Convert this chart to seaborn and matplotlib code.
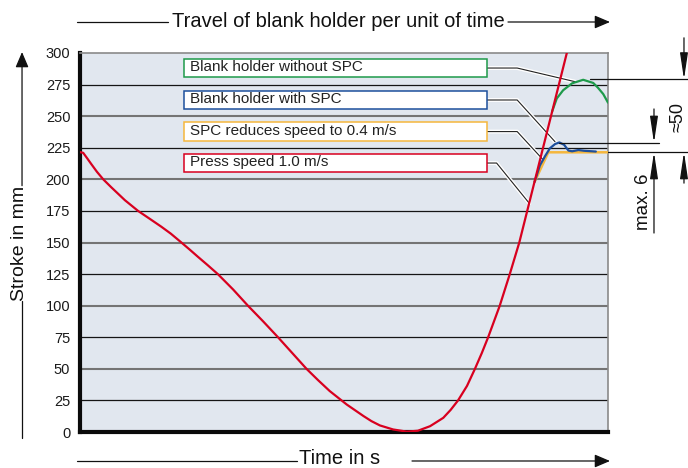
import matplotlib
matplotlib.use("Agg")
import matplotlib.pyplot as plt
import matplotlib.patheffects as pe
from matplotlib.patches import Rectangle
import seaborn as sns

sns.set_theme(style="white")
plt.rcParams['font.family'] = ['Liberation Sans', 'DejaVu Sans']

# --- Data (time normalised 0..1, stroke in mm) ---
time_press = [0.000, 0.006, 0.013, 0.021, 0.032, 0.044, 0.059, 0.085, 0.110, 0.133,
              0.154, 0.172, 0.192, 0.208, 0.223, 0.242, 0.261, 0.290, 0.318, 0.347,
              0.375, 0.402, 0.429, 0.451, 0.473, 0.505, 0.537, 0.552, 0.568, 0.593,
              0.619, 0.640, 0.663, 0.688, 0.702, 0.716, 0.733, 0.748, 0.761, 0.773,
              0.784, 0.795, 0.814, 0.832, 0.847, 0.862, 0.877, 0.892, 0.907, 0.922,
              0.926]
stroke_press = [221.5, 221.0, 217.0, 212.3, 206.0, 200.0, 193.8, 183.5, 175.0, 168.5,
                162.5, 157.0, 150.0, 144.3, 138.8, 132.0, 125.0, 112.8, 100.0, 87.5,
                75.0, 62.5, 50.0, 41.0, 32.4, 21.8, 12.6, 8.6, 5.2, 2.0,
                0.3, 1.0, 4.6, 11.2, 17.5, 25.0, 36.5, 50.0, 62.5, 75.0,
                87.5, 100.0, 125.0, 150.0, 175.0, 200.0, 225.0, 250.0, 275.0, 300.0,
                306.0]

time_no_spc = [0.894, 0.903, 0.915, 0.932, 0.953, 0.972, 0.981, 0.991, 1.000]
stroke_no_spc = [253.5, 264.0, 270.5, 276.0, 278.8, 276.3, 272.5, 267.5, 260.7]

time_with_spc = [0.861, 0.871, 0.881, 0.890, 0.900, 0.908, 0.917, 0.925, 0.932, 0.944, 0.955, 0.977]
stroke_with_spc = [198.0, 211.0, 218.5, 224.6, 228.0, 229.2, 227.3, 222.8, 222.2, 223.2, 222.6, 222.0]

time_reduced = [0.861, 0.887, 1.000]
stroke_reduced = [198.0, 221.4, 221.4]

y_ticks = [0, 25, 50, 75, 100, 125, 150, 175, 200, 225, 250, 275, 300]

labels = ["Blank holder without SPC", "Blank holder with SPC",
          "SPC reduces speed to 0.4 m/s", "Press speed 1.0 m/s"]
colors = ["#1e9a4a", "#1d4f9c", "#f5b73d", "#d8001f"]

peak_no_spc = 279.2
peak_with_spc = 229.0
final_level = 221.4

# --- Figure ---
fig = plt.figure(figsize=(6.88, 4.68), dpi=100)
ax = fig.add_axes([80 / 688, 36 / 468, 528 / 688, 379 / 468])
ax.set_facecolor('#e1e7ef')

# alternating dark / grey grid lines
for i, v in enumerate(y_ticks[1:-1]):
    if i % 2 == 0:
        ax.axhline(v, color='#151515', lw=0.9, zorder=1)
    else:
        ax.axhline(v, color='#747474', lw=1.5, zorder=1)

sns.lineplot(x=time_no_spc, y=stroke_no_spc, color=colors[0], lw=1.6, ax=ax, zorder=6)
sns.lineplot(x=time_reduced, y=stroke_reduced, color=colors[2], lw=1.8, ax=ax, zorder=6)
sns.lineplot(x=time_with_spc, y=stroke_with_spc, color=colors[1], lw=1.6, ax=ax, zorder=6)
sns.lineplot(x=time_press, y=stroke_press, color=colors[3], lw=1.6, ax=ax, zorder=7)

ax.set_xlim(0, 1)
ax.set_ylim(0, 300)
ax.set_xticks([])
ax.set_yticks(y_ticks)
ax.tick_params(axis='y', length=0, pad=7, labelsize=10.5, labelcolor='#1a1a1a')
ax.set_xlabel('')
ax.set_ylabel('')

for side in ['left', 'bottom']:
    ax.spines[side].set_color('#0a0a0a')
    ax.spines[side].set_linewidth(3)
for side in ['top', 'right']:
    ax.spines[side].set_color('#8a8a8a')
    ax.spines[side].set_linewidth(1.2)

# --- Label boxes with leader lines ---
box_centers = [288.1, 262.8, 237.8, 212.9]
leaders = [
    ([0.771, 0.828, 0.9375], [288.1, 288.1, 277.3]),
    ([0.771, 0.828, 0.8996], [262.8, 262.8, 229.8]),
    ([0.771, 0.828, 0.8775], [237.8, 237.8, 215.3]),
    ([0.771, 0.789, 0.851], [212.9, 212.9, 181.0]),
]
halo = [pe.withStroke(linewidth=2.8, foreground='white')]
for lab, col, yc, (lx, ly) in zip(labels, colors, box_centers, leaders):
    ax.plot(lx, ly, color='#222222', lw=0.8, path_effects=halo, zorder=4)
    ax.add_patch(Rectangle((0.197, yc - 7.2), 0.574, 14.4, facecolor='white',
                           edgecolor=col, lw=1.1, zorder=5))
    ax.text(0.209, yc + 0.5, lab, ha='left', va='center', fontsize=11,
            color='#222222', zorder=6)

# --- Dimension lines on the right ---
dim_kw = dict(color='#111111', lw=0.9, clip_on=False, zorder=8)
ax.plot([0.966, 1.16], [peak_no_spc, peak_no_spc], **dim_kw)
ax.plot([0.907, 1.097], [peak_with_spc, peak_with_spc], **dim_kw)
ax.plot([1.0, 1.16], [final_level, final_level], **dim_kw)

arrow_kw = dict(arrowstyle='-|>,head_length=0.8,head_width=0.12', color='#111111',
                lw=0.9, mutation_scale=20, shrinkA=0, shrinkB=0)
ax.annotate('', xy=(1.1439, peak_no_spc), xytext=(1.1439, 312), arrowprops=arrow_kw,
            annotation_clip=False)
ax.annotate('', xy=(1.1439, final_level), xytext=(1.1439, 197), arrowprops=arrow_kw,
            annotation_clip=False)
ax.annotate('', xy=(1.0871, peak_with_spc), xytext=(1.0871, 255.7), arrowprops=arrow_kw,
            annotation_clip=False)
ax.annotate('', xy=(1.0871, final_level), xytext=(1.0871, 157.5), arrowprops=arrow_kw,
            annotation_clip=False)
ax.text(1.1335, 249.5, '≈50', rotation=90, ha='center', va='center', fontsize=13,
        color='#111111', clip_on=False)
ax.text(1.0663, 182.5, 'max. 6', rotation=90, ha='center', va='center', fontsize=13.5,
        color='#111111', clip_on=False)

# --- Axis titles with arrows ---
ax_arrow = dict(arrowstyle='-|>,head_length=0.47,head_width=0.2', color='#111111',
                lw=0.9, mutation_scale=20, shrinkA=0, shrinkB=0)
line_kw = dict(color='#111111', lw=0.9, clip_on=False, transform=ax.transAxes)

ax.text(0.4886, 1.0818, 'Travel of blank holder per unit of time', transform=ax.transAxes,
        ha='center', va='center', fontsize=14.5, color='#111111')
ax.plot([-0.0057, 0.1667], [1.0818, 1.0818], **line_kw)
ax.annotate('', xy=(1.0038, 1.0818), xytext=(0.8106, 1.0818), xycoords='axes fraction',
            arrowprops=ax_arrow, annotation_clip=False)

ax.text(0.4924, -0.0712, 'Time in s', transform=ax.transAxes,
        ha='center', va='center', fontsize=14.5, color='#111111')
ax.plot([-0.0057, 0.411], [-0.0765, -0.0765], **line_kw)
ax.annotate('', xy=(1.0038, -0.0765), xytext=(0.6288, -0.0765), xycoords='axes fraction',
            arrowprops=ax_arrow, annotation_clip=False)

ax.text(-0.1155, 0.497, 'Stroke in mm', transform=ax.transAxes, rotation=90,
        ha='center', va='center', fontsize=14, color='#111111')
ax.plot([-0.1098, -0.1098], [-0.0158, 0.345], **line_kw)
ax.annotate('', xy=(-0.1098, 1.0026), xytext=(-0.1098, 0.65), xycoords='axes fraction',
            arrowprops=ax_arrow, annotation_clip=False)

fig.savefig('out.png', dpi=100, facecolor='white')
